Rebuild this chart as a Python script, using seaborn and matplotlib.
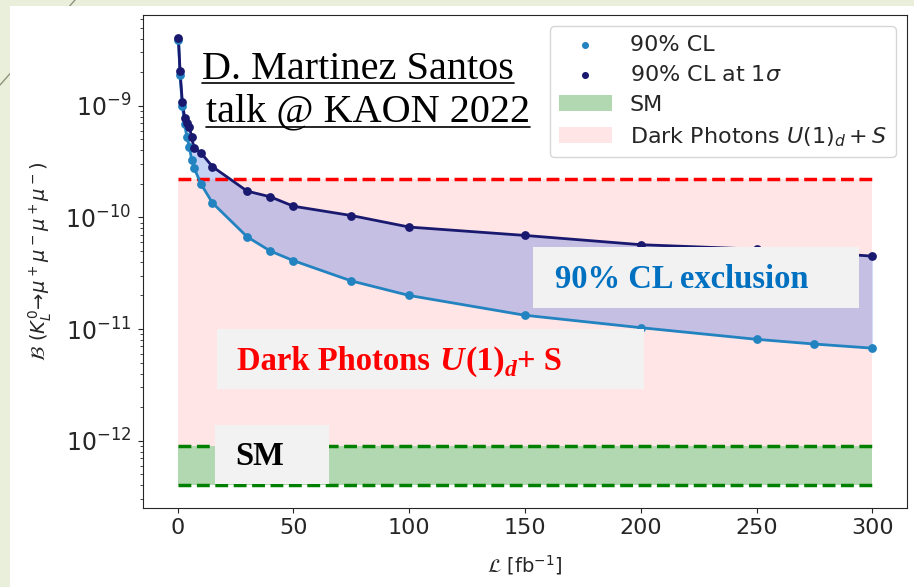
import matplotlib
matplotlib.use("Agg")
import matplotlib.pyplot as plt
import seaborn as sns
import pandas as pd
from matplotlib.lines import Line2D
from matplotlib.patches import Rectangle
from matplotlib.text import Annotation

# integrated luminosity [fb^-1] and branching-fraction limits
lumi = [0.3, 1, 2, 3, 4, 5, 6, 7, 10, 15, 30, 40, 50, 75, 100, 150, 200, 250, 275, 300]
cl90 = [3.9e-9, 1.9e-9, 1.0e-9, 6.8e-10, 5.2e-10, 4.3e-10, 3.3e-10, 2.8e-10, 2.0e-10,
        1.35e-10, 6.7e-11, 5.0e-11, 4.1e-11, 2.7e-11, 2.0e-11, 1.33e-11, 1.03e-11,
        8.1e-12, 7.35e-12, 6.75e-12]
cl90_1sigma = [4.05e-9, 2.05e-9, 1.07e-9, 7.8e-10, 7.0e-10, 6.5e-10, 5.3e-10, 4.2e-10,
               3.8e-10, 2.85e-10, 1.72e-10, 1.53e-10, 1.26e-10, 1.04e-10, 8.2e-11,
               6.9e-11, 5.7e-11, 5.2e-11, 4.9e-11, 4.5e-11]

# theory bands (lower, upper) over the luminosity range
band_x = [0, 300]
sm_band = [4e-13, 9e-13]
dark_photon_band = [9e-13, 2.2e-10]

x_ticks = [0, 50, 100, 150, 200, 250, 300]
y_ticks = [1e-12, 1e-11, 1e-10, 1e-9]

c_light = "#2383c0"
c_dark = "midnightblue"

sns.set_style("ticks")
plt.rcParams["font.family"] = ["DejaVu Sans"]
plt.rcParams["xtick.labelsize"] = 16
plt.rcParams["ytick.labelsize"] = 17
plt.rcParams["ytick.major.pad"] = 5

W, H = 914, 587


def fx(px):
    return px / W


def fy(py):
    return 1 - py / H


fig = plt.figure(figsize=(W / 100, H / 100), dpi=100)
fig.patch.set_facecolor("#e9efda")

# slide background: decorative line + white panel
fig.add_artist(Line2D([0, fx(75)], [fy(85), 1], transform=fig.transFigure,
                      color="#8f947a", lw=1, zorder=-3))
fig.add_artist(Rectangle((fx(10), 0), 1, fy(6), transform=fig.transFigure,
                         facecolor="white", edgecolor="none", zorder=-2))

ax = fig.add_axes([fx(143), fy(508), fx(907) - fx(143), fy(15) - fy(508)])

df = pd.DataFrame({"lumi": lumi, "cl90": cl90, "cl90_1sigma": cl90_1sigma})

# bands
dp_fill = ax.fill_between(band_x, dark_photon_band[0], dark_photon_band[1],
                          color="red", alpha=0.1, lw=0)
sm_fill = ax.fill_between(band_x, sm_band[0], sm_band[1], color="green", alpha=0.3, lw=0)
ax.plot(band_x, [dark_photon_band[1]] * 2, "--", color="red", lw=2.5)
ax.plot(band_x, [sm_band[0]] * 2, "--", color="green", lw=2.5)
ax.plot(band_x, [sm_band[1]] * 2, "--", color="green", lw=2.5)

# exclusion region between curves
ax.fill_between(lumi, cl90, cl90_1sigma, color="royalblue", alpha=0.3, lw=0)

sns.lineplot(data=df, x="lumi", y="cl90", color=c_light, lw=2, ax=ax, legend=False)
sns.lineplot(data=df, x="lumi", y="cl90_1sigma", color=c_dark, lw=2, ax=ax, legend=False)
sc1 = ax.scatter(lumi, cl90, s=40, color=c_light, lw=0, zorder=3)
sc2 = ax.scatter(lumi, cl90_1sigma, s=40, color=c_dark, lw=0, zorder=4)

ax.set_yscale("log")
ax.set_xlim(-15, 315)
ax.set_ylim(2.5e-13, 6.5e-9)
ax.set_xticks(x_ticks)
ax.set_yticks(y_ticks)
ax.set_xlabel(r"$\mathcal{L}$ [fb$^{-1}$]", fontsize=14, labelpad=11)
ax.set_ylabel(r"$\mathcal{B}$ ($K^0_L\!\to\!\mu^+\mu^-\mu^+\mu^-$)", fontsize=14, labelpad=8)

ax.legend([sc1, sc2, sm_fill, dp_fill],
          ["90% CL", r"90% CL at 1$\sigma$", "SM", r"Dark Photons $U(1)_d + S$"],
          loc="upper right", fontsize=16, frameon=True, handlelength=2.4,
          markerscale=0.8, labelspacing=0.45, edgecolor="#cccccc")

# slide annotations
serif = "Liberation Serif"
hdr1 = fig.text(fx(202), fy(79), "D. Martinez Santos", fontsize=29, family=serif,
                color="black", va="baseline", zorder=6)
hdr2 = fig.text(fx(206), fy(121), "talk @ KAON 2022", fontsize=29, family=serif,
                color="black", va="baseline", zorder=6)

for x0, y0, x1, y1 in [(533, 247, 859, 308), (217, 329, 644, 389), (215, 425, 329, 484)]:
    fig.add_artist(Rectangle((fx(x0), fy(y1)), fx(x1) - fx(x0), fy(y0) - fy(y1),
                             transform=fig.transFigure, facecolor="#f2f2f2",
                             edgecolor="none", zorder=5))

fig.text(fx(555), fy(288), "90% CL exclusion", fontsize=23.5, family=serif,
         weight="bold", color="#0070c0", va="baseline", zorder=6)
fig.text(fx(235), fy(465), "SM", fontsize=23.5, family=serif, weight="bold",
         color="black", va="baseline", zorder=6)

# "Dark Photons U(1)_d+ S" built from pieces so U and d can be italic
t = fig.text(fx(237), fy(370), "Dark Photons", fontsize=23.5, family=serif,
             weight="bold", color="red", va="baseline", zorder=6)
pieces = [("U", 24.5, "italic", (7, 0)),
          ("(1)", 24.5, "normal", (1, 0)),
          ("d", 17, "italic", (0, -3)),
          ("+ S", 23.5, "normal", (0, 3))]
for s, size, style, off in pieces:
    a = Annotation(s, xy=(1, 0), xycoords=t, xytext=off, textcoords="offset points",
                   fontsize=size, style=style, family=serif, weight="bold",
                   color="red", va="bottom", ha="left", zorder=6)
    fig.add_artist(a)
    t = a

# underline the header lines
fig.canvas.draw()
renderer = fig.canvas.get_renderer()
inv = fig.transFigure.inverted()
for txt, uy in [(hdr1, 82.5), (hdr2, 126.5)]:
    bb = txt.get_window_extent(renderer).transformed(inv)
    fig.add_artist(Line2D([bb.x0, bb.x1], [fy(uy), fy(uy)], transform=fig.transFigure,
                          color="black", lw=1.2, zorder=6))

fig.savefig("out.png", dpi=100, facecolor=fig.get_facecolor())
